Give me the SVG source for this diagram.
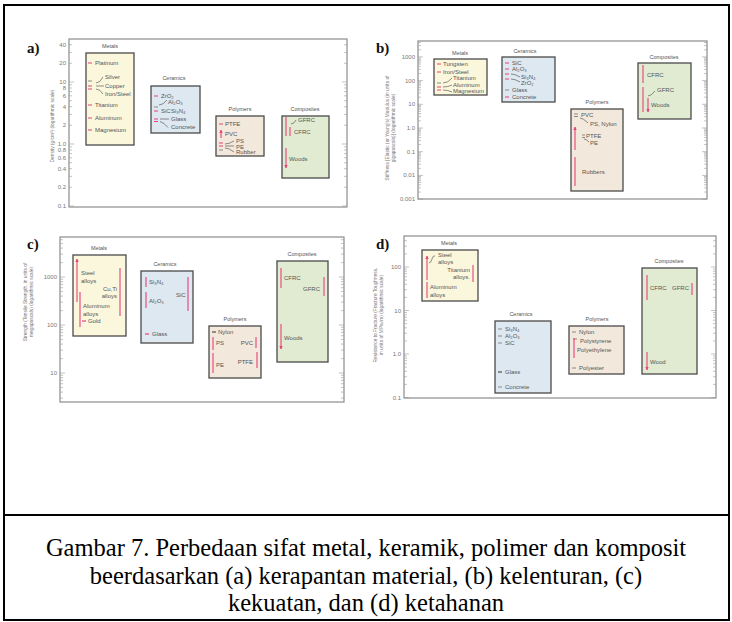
<svg xmlns="http://www.w3.org/2000/svg" xmlns:xlink="http://www.w3.org/1999/xlink" width="732" height="622" viewBox="0 0 732 622">
<style>
.fr{fill:none;stroke:#8c8c8c;stroke-width:1.2}
.tk{fill:none;stroke:#9a9a9a;stroke-width:0.6}
.bx{stroke:#4a4a4a;stroke-width:1.3}
.me{fill:#fbf7dd}.ce{fill:#dde8f1}.po{fill:#f2e8dc}.co{fill:#e1ebd2}
.t{font-family:"Liberation Sans",Arial,sans-serif;font-size:6px;fill:#555}
.h{font-family:"Liberation Sans",Arial,sans-serif;font-size:5.5px;fill:#555;text-anchor:middle}
.ax{font-family:"Liberation Sans",Arial,sans-serif;font-size:6px;fill:#777;text-anchor:end}
.yt{font-family:"Liberation Sans",Arial,sans-serif;font-size:4.8px;fill:#777;text-anchor:middle}
.e{text-anchor:end}
.lb{font-family:"Liberation Serif","Times New Roman",serif;font-size:15px;font-weight:bold;fill:#111}
.cap{font-family:"Liberation Serif","Times New Roman",serif;font-size:24.5px;fill:#000;text-anchor:middle}
.rd{stroke:#e8417e;stroke-width:1.2}
.gd{stroke:#8a8a8a;stroke-width:1}
.kd{stroke:#333;stroke-width:1}
.ld{stroke:#444;stroke-width:0.6;fill:none}
.ar{stroke:#e8417e;stroke-width:1.1;fill:none;marker-start:url(#ah);marker-end:url(#ah)}
</style>
<defs>
<marker id="ah" viewBox="0 0 4 4" refX="3.6" refY="2" markerWidth="3.4" markerHeight="3.4" markerUnits="userSpaceOnUse" orient="auto-start-reverse"><path d="M0 0L4 2L0 4z" fill="#e8417e"/></marker>
<path id="tkA" class="tk" d="M0 206h5M0 144h5M0 82h5M0 187.3h3M0 176.4h3M0 168.7h3M0 162.7h3M0 157.8h3M0 153.6h3M0 150h3M0 146.8h3M0 125.3h3M0 114.4h3M0 106.7h3M0 100.7h3M0 95.8h3M0 91.6h3M0 88h3M0 84.8h3M0 63.3h3M0 52.4h3M0 44.7h3"/>
<path id="tkB" class="tk" d="M0 199.1h5M0 175.4h5M0 151.7h5M0 128h5M0 104.3h5M0 80.6h5M0 56.9h5M0 192h3M0 187.8h3M0 184.8h3M0 182.5h3M0 180.7h3M0 179.1h3M0 177.7h3M0 176.5h3M0 168.3h3M0 164.1h3M0 161.1h3M0 158.8h3M0 157h3M0 155.4h3M0 154h3M0 152.8h3M0 144.6h3M0 140.4h3M0 137.4h3M0 135.1h3M0 133.3h3M0 131.7h3M0 130.3h3M0 129.1h3M0 120.9h3M0 116.7h3M0 113.7h3M0 111.4h3M0 109.6h3M0 108h3M0 106.6h3M0 105.4h3M0 97.2h3M0 93h3M0 90h3M0 87.7h3M0 85.9h3M0 84.3h3M0 82.9h3M0 81.7h3M0 73.5h3M0 69.3h3M0 66.3h3M0 64h3M0 62.2h3M0 60.6h3M0 59.2h3M0 58h3M0 49.8h3M0 45.6h3M0 42.6h3"/>
<path id="tkC" class="tk" d="M0 373h5M0 325h5M0 277h5M0 398.1h3M0 392.1h3M0 387.4h3M0 383.7h3M0 380.4h3M0 377.7h3M0 375.2h3M0 358.6h3M0 350.1h3M0 344.1h3M0 339.4h3M0 335.7h3M0 332.4h3M0 329.7h3M0 327.2h3M0 310.6h3M0 302.1h3M0 296.1h3M0 291.4h3M0 287.7h3M0 284.4h3M0 281.7h3M0 279.2h3M0 262.6h3M0 254.1h3M0 248.1h3M0 243.4h3M0 239.7h3"/>
<path id="tkD" class="tk" d="M0 397.5h5M0 354h5M0 310.5h5M0 267h5M0 384.4h3M0 376.7h3M0 371.3h3M0 367.1h3M0 363.7h3M0 360.7h3M0 358.2h3M0 356h3M0 340.9h3M0 333.2h3M0 327.8h3M0 323.6h3M0 320.2h3M0 317.2h3M0 314.7h3M0 312.5h3M0 297.4h3M0 289.7h3M0 284.3h3M0 280.1h3M0 276.7h3M0 273.7h3M0 271.2h3M0 269h3M0 253.9h3M0 246.2h3M0 240.8h3"/>
</defs>
<rect x="0" y="0" width="732" height="622" fill="#fff"/>
<rect x="4" y="5" width="725" height="615" fill="none" stroke="#000" stroke-width="2"/>
<line x1="4" y1="515" x2="729" y2="515" stroke="#000" stroke-width="2"/>

<!-- Panel a -->
<g id="panel-a">
<text class="lb" x="27" y="53">a)</text>
<rect class="fr" x="69" y="39" width="278" height="168"/>
<use href="#tkA" x="69"/>
<use href="#tkA" transform="translate(347,0) scale(-1,1)"/>
<g class="ax">
<text x="66" y="46.7">40</text><text x="66" y="65.3">20</text><text x="66" y="84">10</text><text x="66" y="90">8</text><text x="66" y="97.8">6</text><text x="66" y="108.7">4</text><text x="66" y="127.3">2</text><text x="66" y="146">1.0</text><text x="66" y="152">0.8</text><text x="66" y="159.8">0.6</text><text x="66" y="170.7">0.4</text><text x="66" y="189.3">0.2</text><text x="66" y="208">0.1</text>
</g>
<text class="yt" transform="translate(54,126) rotate(-90)">Density (g/cm³) (logarithmic scale)</text>
<g id="a-metals">
<rect class="bx me" x="86" y="53" width="48" height="92"/>
<text class="h" x="110" y="48">Metals</text>
<path class="rd" d="M88 63h4M88 86h4M88 89h4M88 105h4M88 118h4M88 130h4"/>
<path class="gd" d="M88 81h4"/>
<text class="t" x="95" y="65">Platinum</text>
<text class="t" x="105" y="79">Silver</text>
<text class="t" x="105" y="88">Copper</text>
<text class="t" x="105" y="96">Iron/Steel</text>
<text class="t" x="95" y="107">Titanium</text>
<text class="t" x="95" y="120">Aluminum</text>
<text class="t" x="95" y="132">Magnesium</text>
</g>
<g id="a-ceramics">
<rect class="bx ce" x="151" y="86" width="49" height="47"/>
<text class="h" x="174" y="80">Ceramics</text>
<path class="rd" d="M154 96h4M154 111h4M154 119h4M154 121.5h4"/>
<path class="gd" d="M154 107h4"/>
<text class="t" x="161" y="98">ZrO₂</text>
<text class="t" x="168" y="104">Al₂O₃</text>
<text class="t" x="161" y="113">SiC</text>
<text class="t" x="171" y="113">Si₃N₄</text>
<text class="t" x="171" y="121">Glass</text>
<text class="t" x="171" y="129">Concrete</text>
</g>
<g id="a-polymers">
<rect class="bx po" x="216" y="116" width="48" height="40"/>
<text class="h" x="240" y="111">Polymers</text>
<path class="rd" d="M219 124h4M219 143h4M219 146h4"/>
<path class="gd" d="M219 150h4"/>
<text class="t" x="225" y="126">PTFE</text>
<text class="t" x="225" y="136">PVC</text>
<text class="t" x="236" y="143">PS</text>
<text class="t" x="236" y="148.5">PE</text>
<text class="t" x="236" y="154">Rubber</text>
</g>
<g id="a-composites">
<rect class="bx co" x="282" y="116" width="47" height="62"/>
<text class="h" x="305" y="111">Composites</text>
<text class="t" x="298" y="122">GFRC</text>
<text class="t" x="294" y="134">CFRC</text>
<text class="t" x="289" y="161">Woods</text>
</g>
<g id="a-connectors">
<path class="ld" d="M96 83q4 0 7-6M96 86h8M96 89q4 0 7 5M159 105q4 0 8-5M160 119h9M160 121.5q4 1 8 6M225 144q4 0 9-3M225 146h9M225 148q4 0 9 4M291 124q3 0 5-4"/>
<path class="ar" d="M221 130v8M286 117v19M290 127v9M286 148v20"/>
</g>
</g>

<!-- Panel b -->
<g id="panel-b">
<text class="lb" x="376" y="53">b)</text>
<rect class="fr" x="418" y="41" width="289" height="158"/>
<use href="#tkB" x="418"/>
<use href="#tkB" transform="translate(707,0) scale(-1,1)"/>
<g class="ax">
<text x="415" y="58.9">1000</text><text x="415" y="82.6">100</text><text x="415" y="106.3">10</text><text x="415" y="130">1.0</text><text x="415" y="153.7">0.1</text><text x="415" y="177.4">0.01</text><text x="415" y="201.1">0.001</text>
</g>
<text class="yt" transform="translate(389,128) rotate(-90)">Stiffness [Elastic (or Young's) Modulus (in units of</text>
<text class="yt" transform="translate(395,128) rotate(-90)">gigapascals)] (logarithmic scale)</text>
<g id="b-metals">
<rect class="bx me" x="434" y="59" width="53" height="36"/>
<text class="h" x="460" y="55">Metals</text>
<path class="rd" d="M437 64h4M437 72h4M437 87h4M437 90h4"/>
<path class="gd" d="M437 83h4"/>
<text class="t" x="443" y="66">Tungsten</text>
<text class="t" x="443" y="74">Iron/Steel</text>
<text class="t" x="453" y="80">Titanium</text>
<text class="t" x="453" y="86.5">Aluminum</text>
<text class="t" x="453" y="93">Magnesium</text>
</g>
<g id="b-ceramics">
<rect class="bx ce" x="502" y="57" width="53" height="45"/>
<text class="h" x="525" y="53">Ceramics</text>
<path class="rd" d="M505 63h4M505 69h4M505 74h4M505 79h4M505 97h4"/>
<path class="gd" d="M505 90h4"/>
<text class="t" x="512" y="65">SiC</text>
<text class="t" x="512" y="71">Al₂O₃</text>
<text class="t" x="521" y="79">Si₃N₄</text>
<text class="t" x="521" y="85">ZrO₂</text>
<text class="t" x="512" y="92">Glass</text>
<text class="t" x="512" y="99">Concrete</text>
</g>
<g id="b-polymers">
<rect class="bx po" x="571" y="109" width="52" height="82"/>
<text class="h" x="597" y="104">Polymers</text>
<path class="gd" d="M574 114h4M574 116.5h4M582 135h3M582 137.5h3"/>
<text class="t" x="581" y="117">PVC</text>
<text class="t" x="590" y="126">PS, Nylon</text>
<text class="t" x="586" y="138">PTFE</text>
<text class="t" x="590" y="145">PE</text>
<text class="t" x="582" y="174">Rubbers</text>
</g>
<g id="b-composites">
<rect class="bx co" x="638" y="63" width="53" height="56"/>
<text class="h" x="664" y="59">Composites</text>
<text class="t" x="647" y="77">CFRC</text>
<text class="t" x="657" y="92">GFRC</text>
<text class="t" x="651" y="107">Woods</text>
</g>
<g id="b-connectors">
<path class="ld" d="M443 83q5 0 9-5M443 87q5 0 9-2M443 90q5 0 9 2M511 74q4 0 9 3M511 79q4 0 9 3M580 118q3 0 8 5M584 139q2 0 5 3M648 96q3 0 7-5"/>
<path class="ar" d="M575 127v23M575 157v29M643 65v18M643 87v25M648 98v14"/>
</g>
</g>

<!-- Panel c -->
<g id="panel-c">
<text class="lb" x="27" y="249">c)</text>
<rect class="fr" x="60" y="237" width="284" height="165"/>
<use href="#tkC" x="60"/>
<use href="#tkC" transform="translate(344,0) scale(-1,1)"/>
<g class="ax">
<text x="57" y="279">1000</text><text x="57" y="327">100</text><text x="57" y="375">10</text>
</g>
<text class="yt" transform="translate(27,302) rotate(-90)">Strength (Tensile Strength, in units of</text>
<text class="yt" transform="translate(33,302) rotate(-90)">megapascals) (logarithmic scale)</text>
<g id="c-metals">
<rect class="bx me" x="73" y="255" width="53" height="81"/>
<text class="h" x="99" y="250">Metals</text>
<path class="rd" d="M82 321h4"/>
<text class="t" x="81" y="275">Steel</text>
<text class="t" x="81" y="283">alloys</text>
<text class="t" x="83" y="308">Aluminum</text>
<text class="t" x="83" y="316">alloys</text>
<text class="t" x="88" y="323">Gold</text>
<text class="t e" x="117" y="291">Cu,Ti</text>
<text class="t e" x="117" y="298">alloys</text>
</g>
<g id="c-ceramics">
<rect class="bx ce" x="141" y="271" width="52" height="72"/>
<text class="h" x="165" y="266">Ceramics</text>
<path class="rd" d="M145 334h4"/>
<text class="t" x="149" y="284">Si₃N₄</text>
<text class="t" x="149" y="303">Al₂O₃</text>
<text class="t" x="176" y="297">SiC</text>
<text class="t" x="152" y="336">Glass</text>
</g>
<g id="c-polymers">
<rect class="bx po" x="209" y="326" width="52" height="52"/>
<text class="h" x="235" y="321">Polymers</text>
<path class="kd" d="M212 332h4"/>
<text class="t" x="218" y="334">Nylon</text>
<text class="t" x="216" y="345">PS</text>
<text class="t" x="216" y="367">PE</text>
<text class="t e" x="253" y="345">PVC</text>
<text class="t e" x="253" y="364">PTFE</text>
</g>
<g id="c-composites">
<rect class="bx co" x="277" y="261" width="51" height="101"/>
<text class="h" x="302" y="256">Composites</text>
<text class="t" x="284" y="280">CFRC</text>
<text class="t e" x="320" y="291">GFRC</text>
<text class="t" x="284" y="340">Woods</text>
</g>
<g id="c-connectors">
<path class="ar" d="M77 259v43M80 292v35M120 268v48M146 277v10M146 292v16M188 277v34M213 337v13M213 353v20M256 337v11M257 352v16M281 268v20M324 277v19M281 324v25"/>
</g>
</g>

<!-- Panel d -->
<g id="panel-d">
<text class="lb" x="376" y="249">d)</text>
<rect class="fr" x="404" y="236" width="312" height="162"/>
<use href="#tkD" x="404"/>
<use href="#tkD" transform="translate(716,0) scale(-1,1)"/>
<g class="ax">
<text x="401" y="269">100</text><text x="401" y="312.5">10</text><text x="401" y="356">1.0</text><text x="401" y="399.5">0.1</text>
</g>
<text class="yt" transform="translate(377,315) rotate(-90)">Resistance to Fracture (Fracture Toughness,</text>
<text class="yt" transform="translate(383,315) rotate(-90)">in units of MPa√m) (logarithmic scale)</text>
<g id="d-metals">
<rect class="bx me" x="422" y="250" width="56" height="51"/>
<text class="h" x="449" y="245">Metals</text>
<text class="t" x="438" y="257">Steel</text>
<text class="t" x="438" y="264">alloys</text>
<text class="t e" x="470" y="272">Titanium</text>
<text class="t e" x="470" y="279">alloys.</text>
<text class="t" x="430" y="289">Aluminum</text>
<text class="t" x="430" y="297">alloys</text>
</g>
<g id="d-ceramics">
<rect class="bx ce" x="495" y="321" width="56" height="72"/>
<text class="h" x="521" y="316">Ceramics</text>
<path class="gd" d="M498 329h4M498 336h4M498 343h4M498 387h4"/>
<path class="kd" d="M498 372h4"/>
<text class="t" x="505" y="331">Si₃N₄</text>
<text class="t" x="505" y="338">Al₂O₃</text>
<text class="t" x="505" y="345">SiC</text>
<text class="t" x="505" y="374">Glass</text>
<text class="t" x="505" y="389">Concrete</text>
</g>
<g id="d-polymers">
<rect class="bx po" x="569" y="326" width="55" height="48"/>
<text class="h" x="597" y="321">Polymers</text>
<path class="gd" d="M572 332h4M572 368h4"/>
<text class="t" x="579" y="334">Nylon</text>
<text class="t" x="580" y="343">Polystyrene</text>
<text class="t" x="577" y="352">Polyethylene</text>
<text class="t" x="579" y="370">Polyester</text>
</g>
<g id="d-composites">
<rect class="bx co" x="642" y="268" width="55" height="106"/>
<text class="h" x="669" y="263">Composites</text>
<text class="t" x="650" y="290">CFRC</text>
<text class="t e" x="689" y="290">GFRC</text>
<text class="t" x="650" y="364">Wood</text>
</g>
<g id="d-connectors">
<path class="ld" d="M429 263q2 0 3-4t3-3M573 339h4"/>
<path class="ar" d="M427 256v24M473 265v17M427 282v16M574 338v20M647 275v25M692 283v12M647 352v18"/>
</g>
</g>

<g id="caption">
<text class="cap" x="366" y="556">Gambar 7. Perbedaan sifat metal, keramik, polimer dan komposit</text>
<text class="cap" x="366" y="584">beerdasarkan (a) kerapantan material, (b) kelenturan, (c)</text>
<text class="cap" x="366" y="611">kekuatan, dan (d) ketahanan</text>
</g>
</svg>
